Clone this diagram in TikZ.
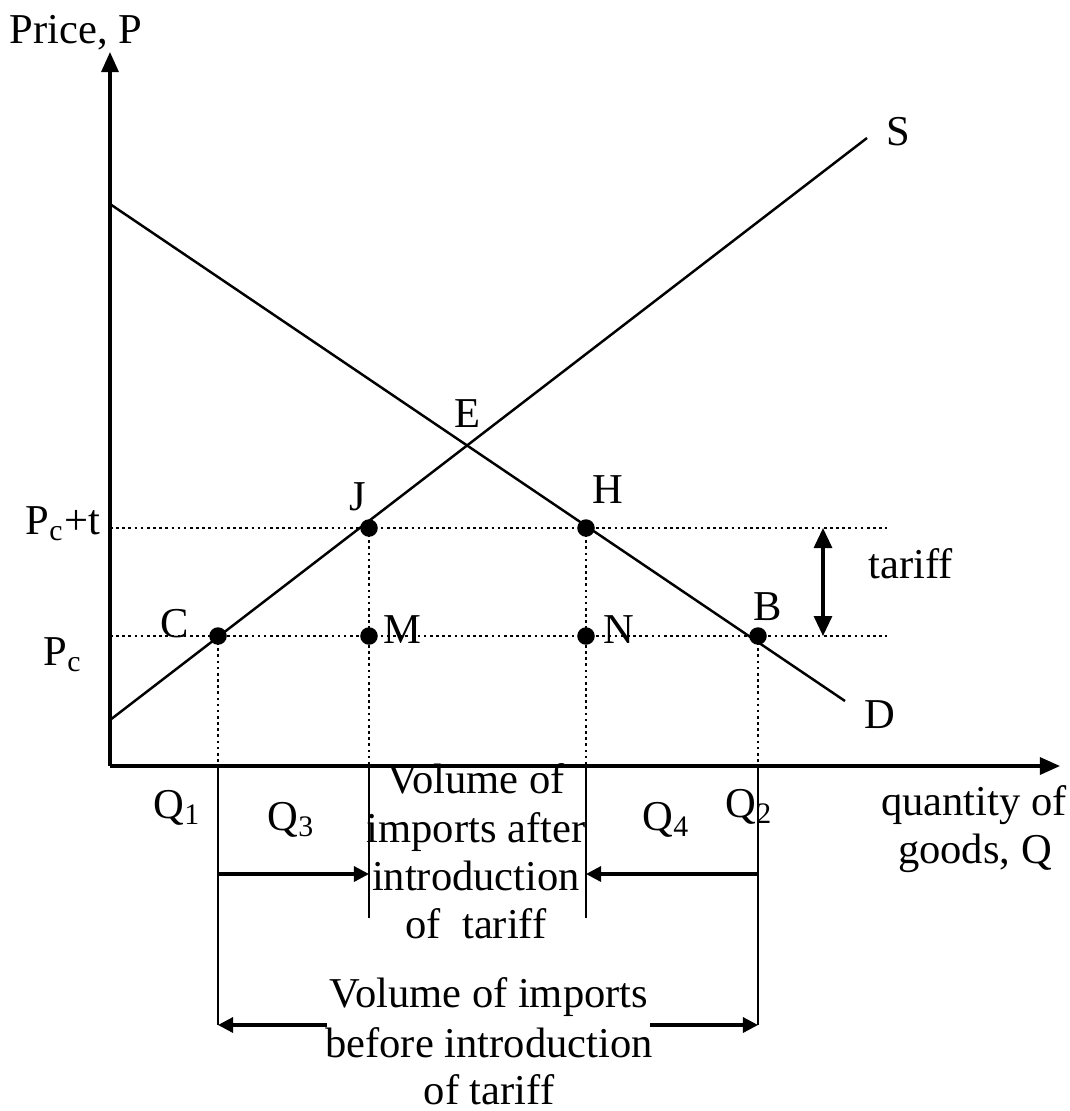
\documentclass[tikz,border=0pt]{standalone}
\usepackage{fontspec}
\setmainfont{Liberation Serif}
\usetikzlibrary{arrows.meta}
\begin{document}
\begin{tikzpicture}[x=0.01cm,y=-0.01cm,
  lbl/.style={inner sep=0pt, font=\fontsize{12.1}{14.5}\selectfont},
  axis/.style={line width=0.9pt, -{Triangle[length=0.2cm,width=0.17cm]}},
  curve/.style={line width=0.7pt},
  guide/.style={line width=0.75pt, dash pattern=on 0.75pt off 1.0pt},
  bar/.style={line width=0.65pt},
  span/.style={line width=0.9pt, -{Triangle[length=0.15cm,width=0.15cm]}},
  tarrow/.style={line width=0.9pt, {Triangle[length=0.2cm,width=0.18cm]}-{Triangle[length=0.2cm,width=0.18cm]}},
  dot/.style={circle, fill, inner sep=0pt, minimum size=0.175cm}]
\useasboundingbox (0,0) rectangle (1070,1111);
% coordinates
\coordinate (O) at (110,766);
\coordinate (Ytip) at (110,52);
\coordinate (Xtip) at (1060,766);
\coordinate (S0) at (110,720);
\coordinate (S1) at (867,138);
\coordinate (D0) at (110,204);
\coordinate (D1) at (845,701);
\coordinate (Pt0) at (110,528);
\coordinate (Pt1) at (887,528);
\coordinate (Pc0) at (110,636);
\coordinate (Pc1) at (887,636);
\coordinate (q1) at (218,766);
\coordinate (q3) at (369,766);
\coordinate (q4) at (586,766);
\coordinate (q2) at (758,766);
\coordinate (q1b) at (218,1025);
\coordinate (q3b) at (369,918);
\coordinate (q4b) at (586,918);
\coordinate (q2b) at (758,1025);
\coordinate (a1s) at (218,874);
\coordinate (a1e) at (369,874);
\coordinate (a2s) at (758,874);
\coordinate (a2e) at (586,874);
\coordinate (b1s) at (327,1025);
\coordinate (b2s) at (650,1025);
\coordinate (T0) at (823,528);
\coordinate (T1) at (823,636);
% dots
\node[dot] (C) at (218,636) {};
\node[dot] (M) at (369,636) {};
\node[dot] (N) at (586,636) {};
\node[dot] (B) at (758,636) {};
\node[dot] (J) at (369,528) {};
\node[dot] (H) at (586,528) {};
% guides
\draw[guide] (Pt0) -- (Pt1);
\draw[guide] (Pc0) -- (Pc1);
\draw[guide] (C.center) -- (q1);
\draw[guide] (J.center) -- (q3);
\draw[guide] (H.center) -- (q4);
\draw[guide] (B.center) -- (q2);
% curves
\draw[curve] (S0) -- (S1);
\draw[curve] (D0) -- (D1);
% axes
\draw[axis] (O) -- (Ytip);
\draw[axis] (O) -- (Xtip);
% bars
\draw[bar] (q1) -- (q1b);
\draw[bar] (q3) -- (q3b);
\draw[bar] (q4) -- (q4b);
\draw[bar] (q2) -- (q2b);
% spans
\draw[span] (a1s) -- (a1e);
\draw[span] (a2s) -- (a2e);
\draw[span] (b1s) -- (q1b);
\draw[span] (b2s) -- (q2b);
\draw[tarrow] (T0) -- (T1);
% labels
\node[lbl, anchor=base west] (lP) at (9,43) {Price, P};
\node[lbl, anchor=base] (lS) at (898,145) {S};
\node[lbl, anchor=base] (lD) at (880,728) {D};
\node[lbl, anchor=base] (lE) at (467,427) {E};
\node[lbl, anchor=base] (lJ) at (358,510) {J};
\node[lbl, anchor=base] (lH) at (608,503) {H};
\node[lbl, anchor=base west] (lM) at (383,643) {M};
\node[lbl, anchor=base west] (lN) at (603,643) {N};
\node[lbl, anchor=base] (lB) at (768,620) {B};
\node[lbl, anchor=base] (lC) at (175,637) {C};
\node[lbl, anchor=base west] (lPt) at (25,534) {P\textsubscript{c}+t};
\node[lbl, anchor=base west] (lPc) at (43,665) {P\textsubscript{c}};
\node[lbl, anchor=base west] (ltar) at (868,578) {tariff};
\node[lbl, anchor=base west] (lQ1) at (153,818) {Q\textsubscript{1}};
\node[lbl, anchor=base west] (lQ3) at (267,830) {Q\textsubscript{3}};
\node[lbl, anchor=base west] (lQ4) at (642,830) {Q\textsubscript{4}};
\node[lbl, anchor=base west] (lQ2) at (725,817) {Q\textsubscript{2}};
\node[lbl, anchor=base] (lqa) at (974,815) {quantity of};
\node[lbl, anchor=base] (lqb) at (975,863) {goods, Q};
\node[lbl, anchor=base] (va1) at (476,793) {Volume of};
\node[lbl, anchor=base] (va2) at (476,842) {imports after};
\node[lbl, anchor=base] (va3) at (476,890) {introduction};
\node[lbl, anchor=base] (va4) at (476,938) {of\ \ tariff};
\node[lbl, anchor=base] (vb1) at (489,1007) {Volume of imports};
\node[lbl, anchor=base] (vb2) at (489,1057) {before introduction};
\node[lbl, anchor=base] (vb3) at (489,1104) {of tariff};
\end{tikzpicture}
\end{document}
